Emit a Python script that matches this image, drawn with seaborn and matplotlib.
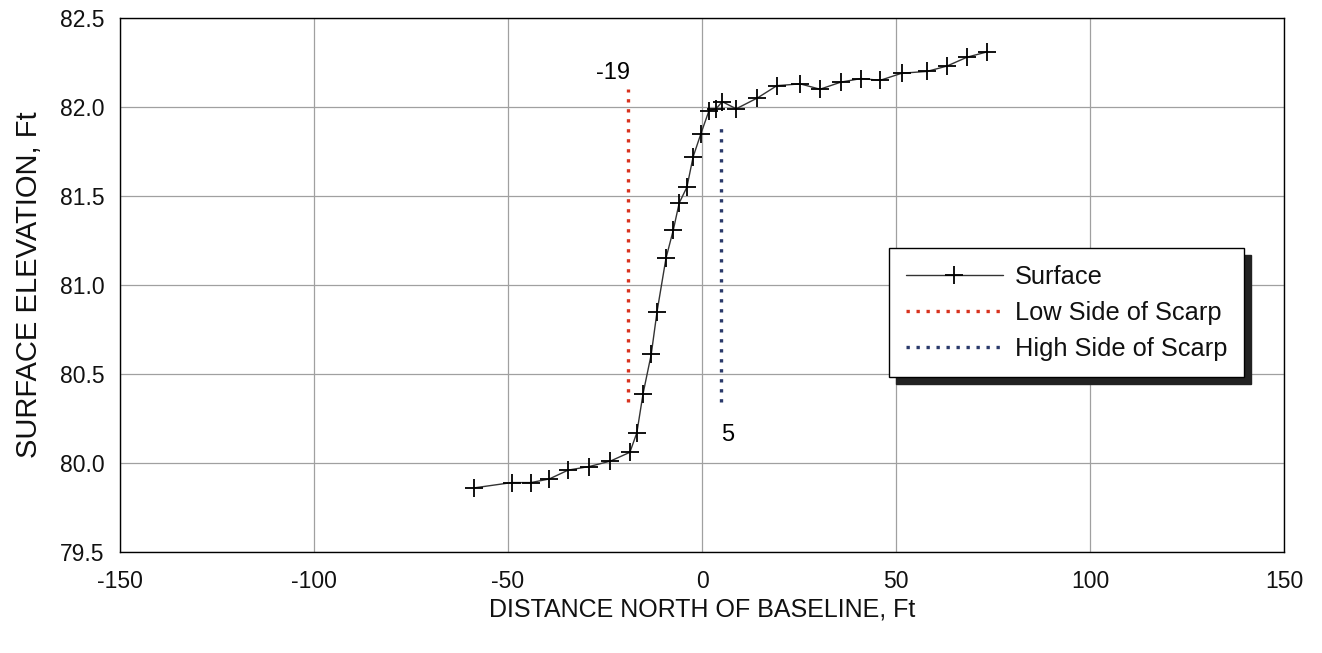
import numpy as np
import pandas as pd
import matplotlib
matplotlib.use("Agg")
import matplotlib.pyplot as plt
import seaborn as sns

# surface profile
dist = [-58.8, -49.0, -44.1, -39.4, -34.5, -29.1, -23.7, -18.6, -16.8, -15.2,
        -13.1, -11.6, -9.3, -7.4, -5.9, -3.9, -2.3, -0.3, 1.8, 3.6, 5.2, 8.8,
        14.2, 19.3, 25.3, 30.4, 35.8, 41.0, 45.9, 51.5, 58.0, 63.1, 68.3, 73.5]
elev = [79.86, 79.89, 79.89, 79.91, 79.96, 79.98, 80.01, 80.06, 80.17, 80.39,
        80.61, 80.85, 81.15, 81.31, 81.46, 81.55, 81.72, 81.85, 81.98, 81.99, 82.03, 81.99,
        82.05, 82.12, 82.13, 82.10, 82.14, 82.16, 82.15, 82.19, 82.20, 82.23, 82.28, 82.31]

# scarp markers
low_x = [-19, -19]
low_y = [80.34, 82.10]
high_x = [5, 5]
high_y = [80.34, 81.91]

df = pd.DataFrame({"dist": dist, "elev": elev})

sns.set_style("white")
plt.rcParams['font.family'] = ['Liberation Sans', 'DejaVu Sans']
plt.rcParams['axes.unicode_minus'] = False

fig = plt.figure(figsize=(13.22, 6.53), dpi=100)
ax = fig.add_axes([0.0908, 0.1547, 0.8805, 0.8177])

sns.lineplot(data=df, x="dist", y="elev", ax=ax, color="#333333", lw=1.0,
             marker="+", markersize=13, markeredgewidth=1.3, markeredgecolor="black",
             label="Surface")
ax.plot(low_x, low_y, ls=(0, (1.0, 2.0)), color="#d8321e", lw=2.4, label="Low Side of Scarp")
ax.plot(high_x, high_y, ls=(0, (1.0, 2.0)), color="#2b3a6b", lw=2.4, label="High Side of Scarp")

ax.text(-23, 82.19, "-19", fontsize=17, ha="center", va="center", color="black")
ax.text(6.5, 80.16, "5", fontsize=17, ha="center", va="center", color="black")

ax.set_xlim(-150, 150)
ax.set_ylim(79.5, 82.5)
ax.set_xticks(np.arange(-150, 151, 50))
ax.set_yticks(np.arange(79.5, 82.51, 0.5))
ax.set_yticklabels([f"{v:.1f}" for v in np.arange(79.5, 82.51, 0.5)])
ax.grid(True, color="#a0a0a0", lw=0.9)
for s in ax.spines.values():
    s.set_color("black")
    s.set_linewidth(1.0)
ax.tick_params(labelsize=16.5, length=0, labelcolor="#111111")
ax.tick_params(axis="y", pad=11)
ax.tick_params(axis="x", pad=13)
ax.set_xlabel("DISTANCE NORTH OF BASELINE, Ft", fontsize=18, labelpad=3, color="#111111")
ax.set_ylabel("SURFACE ELEVATION, Ft", fontsize=21, labelpad=12, color="#111111")

leg = ax.legend(loc="upper left", bbox_to_anchor=(0.661, 0.569), frameon=True,
                fancybox=False, shadow={"color": "#222222", "alpha": 1.0, "ox": 5, "oy": -5},
                edgecolor="black", fontsize=18.3, handlelength=3.8, numpoints=1,
                borderpad=0.65, labelspacing=0.47, handletextpad=0.5, borderaxespad=0)
leg.get_frame().set_linewidth(1.0)
for t in leg.get_texts():
    t.set_color("#111111")

fig.savefig("out.png", dpi=100)
